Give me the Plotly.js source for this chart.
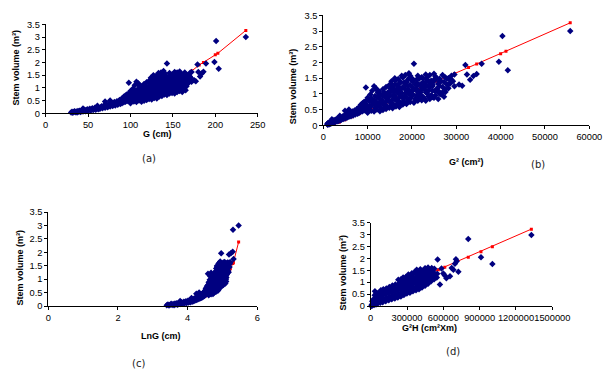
<!DOCTYPE html>
<html><head><meta charset="utf-8">
<script src="https://cdn.plot.ly/plotly-3.0.1.min.js"></script>
<style>html,body{margin:0;padding:0;background:#fff;}#chart{width:607px;height:374px;}</style>
</head><body><div id="chart"></div>
<script>
// ---- Tree data: girth G (cm) and stem volume V (m3) ----
const G = [
  30,31,32,33,34,35,36,37,38,39,40,41,42,43,44,45,46,47,48,49,50,51,52,53,54,55,56,57,58,59,60,61,62,63,61,44,
  64,65,66,67,68,69,70,70,71,72,73,74,75,76,76,77,78,79,80,81,82,83,84,85,86,87,88,89,90,90,91,92,92,93,94,94,95,96,96,97,98,98,99,99,
  100,101,99,102,100,
  104,103,105,104,103,105,
  107,108,106,107,108,107,
  110,111,109,110,111,110,109,
  113,114,112,113,114,112,
  116,117,115,116,117,116,
  119,120,118,119,120,119,
  122,123,121,122,123,122,
  125,126,124,125,126,125,124,
  128,129,127,128,129,128,127,
  131,132,130,131,132,131,130,
  134,135,133,134,135,134,133,
  137,138,136,137,138,137,136,
  140,141,139,140,141,140,139,
  143,144,142,143,144,142,143,
  146,147,145,146,147,146,
  149,150,148,149,150,149,
  152,153,151,152,153,152,
  155,156,154,155,156,155,
  158,159,157,158,159,158,
  161,162,160,161,162,
  165,166,164,165,166,
  168,169,168,
  172,171,172,
  102,105,109,112,115,118,121,124,127,130,133,136,139,142,145,148,151,154,157,160,163,167,170,
  117,119,121,123,126,127,129,131,132,134,136,138,139,141,142,144,145,147,148,150,151,153,154,156,157,159,160,162,163,164,166,167,169,170,
  122,124,126,128,129,130,132,133,135,136,137,138,140,141,142,124,127,
  145,146,148,150,152,153,155,157,158,161,162,164,
  175,177,179,180,182,184,186,189,199,201,204,236
];
const V = [
  .03,.06,.02,.05,.08,.04,.07,.03,.09,.06,.10,.05,.08,.12,.07,.10,.14,.08,.12,.16,.10,.14,.18,.11,.15,.20,.13,.17,.22,.14,.19,.25,.16,.21,.30,.19,
  .18,.24,.28,.20,.26,.32,.46,.22,.29,.35,.24,.30,.38,.27,.50,.33,.41,.29,.36,.44,.31,.39,.47,.34,.42,.52,.37,.46,.58,.40,.50,.65,.43,.55,.70,.45,.60,.48,.75,.55,1.20,.66,.45,.80,
  .40,.52,.64,.76,.88,
  .46,.60,.73,.86,.98,1.10,
  .44,.56,.68,.80,.93,1.24,
  .50,.63,.76,.90,1.04,1.12,1.18,
  .45,.56,.69,.83,.97,1.08,
  .49,.66,.80,.94,1.06,1.15,
  .52,.60,.72,.86,1.01,1.22,
  .56,.73,.88,1.03,1.17,1.28,
  .54,.65,.78,.93,1.08,1.22,1.40,
  .60,.77,.95,1.12,1.28,1.44,1.50,
  .58,.70,.85,1.00,1.16,1.32,1.47,
  .66,.86,1.03,1.20,1.36,1.52,1.58,
  .68,.78,.93,1.09,1.25,1.40,1.60,
  .74,.95,1.12,1.28,1.44,1.58,1.66,
  .72,.84,.99,1.15,1.31,1.47,1.96,
  .78,1.00,1.16,1.32,1.48,1.58,
  .80,.90,1.05,1.21,1.37,1.53,
  .78,1.02,1.20,1.37,1.52,1.62,
  .84,.96,1.10,1.26,1.42,1.60,
  .88,1.08,1.25,1.41,1.55,1.64,
  .84,1.00,1.16,1.32,1.48,
  .91,1.06,1.22,1.38,1.52,
  1.18,1.32,1.50,
  1.24,1.40,1.62,
  .58,.78,.66,.90,.70,.95,.78,1.10,.83,1.20,.90,1.30,1.00,1.40,1.10,1.30,1.15,1.40,1.30,1.10,1.40,1.30,1.45,
  .55,.90,1.05,.62,.95,1.30,.68,1.05,1.38,.75,1.15,.85,1.50,.98,1.20,.80,1.45,.88,1.10,1.50,.85,1.25,.92,1.35,1.10,.95,1.50,1.25,.98,1.60,1.15,1.48,1.35,1.58,
  .95,.72,1.12,.86,1.05,.78,.95,1.18,.72,1.00,1.36,1.12,.85,1.08,.95,1.30,1.45,
  .95,1.28,.98,1.30,1.05,1.45,1.20,.90,1.45,1.10,1.40,1.05,
  1.30,1.26,1.92,1.62,1.45,1.57,1.63,1.96,2.02,2.84,1.75,3.00
];
// ---- Fitted (predicted) volumes, red lines ----
const Gfit  = [30,40,50,60,70,80,90,100,110,120,130,140,147,160,172,181,186,200,203,236];
const VfitA = [.04,.08,.13,.19,.26,.34,.44,.55,.66,.79,.93,1.08,1.20,1.43,1.66,1.90,2.00,2.30,2.36,3.26];
const VfitB = [-.05,-.01,.04,.10,.18,.27,.37,.48,.60,.74,.88,1.04,1.15,1.40,1.64,1.84,1.95,2.28,2.36,3.26];
const VfitC = [.05,.08,.12,.17,.23,.29,.36,.44,.52,.61,.70,.80,.88,1.04,1.19,1.31,1.39,1.58,1.62,2.38];
// ---- Panel (d): G2H (cm2 x m) and stem volume ----
const GHx = [
  5000,9000,
  14000,17000,13000,
  28000,31000,27000,33000,
  44000,47000,42000,46000,
  58000,62000,57000,61000,35000,
  79000,82000,77000,81000,84000,
  99000,102000,97000,101000,104000,
  124000,127000,122000,126000,129000,
  149000,152000,147000,151000,154000,
  174000,177000,172000,176000,179000,
  199000,202000,197000,201000,204000,228000,
  224000,227000,222000,226000,229000,250000,
  249000,252000,247000,251000,254000,250000,268000,
  274000,277000,272000,276000,279000,274000,290000,
  299000,302000,297000,301000,304000,299000,311000,
  324000,327000,322000,326000,329000,324000,340000,
  349000,352000,347000,351000,354000,349000,365000,
  374000,377000,372000,376000,379000,374000,380000,
  399000,402000,397000,401000,404000,399000,410000,
  424000,427000,422000,426000,429000,424000,449000,
  449000,452000,447000,451000,454000,449000,
  474000,477000,472000,476000,479000,474000,
  499000,502000,497000,501000,504000,
  524000,527000,522000,526000,
  546000,549000,553000,
  572000,585000,600000,612000,625000,655000,669000,683000,696000,704000,710000,724000,806000,911000,1005000,1327000
];
const GHv = [
  .00,.05,
  .02,.10,.20,
  .04,.15,.30,.45,
  .06,.18,.33,.50,
  .10,.22,.36,.55,.62,
  .14,.26,.40,.55,.66,
  .16,.30,.44,.58,.70,
  .20,.34,.48,.62,.74,
  .24,.38,.52,.66,.80,
  .28,.42,.56,.70,.86,
  .32,.46,.60,.74,.90,1.10,
  .36,.50,.64,.78,.92,1.08,
  .40,.54,.68,.82,.96,1.12,1.20,
  .46,.60,.74,.88,1.02,1.16,1.22,
  .52,.66,.80,.94,1.08,1.22,1.32,
  .56,.70,.84,.98,1.12,1.26,1.38,
  .62,.76,.90,1.04,1.18,1.32,1.44,
  .66,.80,.94,1.08,1.22,1.36,1.52,
  .70,.84,.98,1.12,1.26,1.40,1.54,
  .78,.92,1.06,1.20,1.34,1.48,1.59,
  .85,1.00,1.14,1.28,1.42,1.56,
  .94,1.08,1.22,1.36,1.50,1.62,
  1.04,1.18,1.32,1.46,1.60,
  1.12,1.26,1.40,1.56,
  1.20,1.35,1.95,
  .90,1.58,1.37,1.28,1.17,1.25,1.60,1.52,1.78,1.96,1.88,1.44,2.81,2.05,1.76,2.98
];
const GHfitX = [50000,150000,300000,450000,559000,612000,704000,806000,911000,1005000,1327000];
const GHfitV = [.40,.62,.95,1.28,1.52,1.63,1.83,2.05,2.28,2.49,3.23];

// Axis tick settings
const xDtick = [50, 10000, 2, 300000];
const xRange = [[0,250],[0,60000],[0,6],[0,1500000]];
const yTitle = '<b>Stem volume (m³)</b>';
const xTitles = ['<b>G (cm)</b>','<b>G² (cm²)</b>','<b>LnG (cm)</b>','<b>G²H (cm²Xm)</b>'];
const panelLabels = ['(a)','(b)','(c)','(d)'];

// x values for panels (b) and (c): the same trees on G² and ln G axes
const G2 = G.map(g => g*g);
const LnG = G.map(g => Math.log(g));
const Gfit2 = Gfit.map(g => g*g);
const LnGfit = Gfit.map(g => Math.log(g));

const W = 607, H = 374;
// pixel boxes [left, right, bottom, top]
const boxes = [[45.7,257.7,113.3,24.3],[323.3,589.3,125.3,15.3],[48.3,257.3,306,212],[370.7,552.3,306,222.7]];

const navy = '#000080';
function fitTrace(x,y,i){
  return {x:x,y:y,xaxis:'x'+(i?i+1:''),yaxis:'y'+(i?i+1:''),type:'scatter',mode:'lines+markers',
    line:{color:'#ff0000',width:1},marker:{color:'#ff0000',size:3,symbol:'square'},hoverinfo:'skip'};
}
function dataTrace(x,y,i){
  return {x:x,y:y,xaxis:'x'+(i?i+1:''),yaxis:'y'+(i?i+1:''),type:'scatter',mode:'markers',cliponaxis:false,
    marker:{color:navy,size:5,symbol:'diamond',line:{width:0}}};
}
const traces = [
  fitTrace(Gfit,VfitA,0), dataTrace(G,V,0),
  fitTrace(Gfit2,VfitB,1), dataTrace(G2,V,1),
  fitTrace(LnGfit,VfitC,2), dataTrace(LnG,V,2),
  fitTrace(GHfitX,GHfitV,3), dataTrace(GHx,GHv,3)
];

const tickfont = {family:'Liberation Sans, Arial, sans-serif', size:9.3, color:'#000'};
const layout = {width:W,height:H,margin:{l:0,r:0,t:0,b:0},paper_bgcolor:'#fff',plot_bgcolor:'rgba(0,0,0,0)',
  showlegend:false,annotations:[]};
boxes.forEach((b,i)=>{
  const s = i? String(i+1):'';
  layout['xaxis'+s] = {domain:[b[0]/W,b[1]/W],range:xRange[i],tick0:0,dtick:xDtick[i],anchor:'y'+s,
    showgrid:false,zeroline:false,showline:true,linecolor:'#000',linewidth:1,ticks:'outside',ticklen:3,
    tickcolor:'#000',tickfont:tickfont,tickangle:0,tickformat:'d',fixedrange:true};
  layout['yaxis'+s] = {domain:[1-b[2]/H,1-b[3]/H],range:[0,3.5],tick0:0,dtick:0.5,anchor:'x'+s,
    showgrid:false,zeroline:false,showline:true,linecolor:'#000',linewidth:1,ticks:'outside',ticklen:3,
    tickcolor:'#000',tickfont:tickfont,fixedrange:true};
});
const titleFont = {family:'Liberation Sans, Arial, sans-serif', size:9, color:'#000'};
const yTitlePos = [[16,67.5],[293.3,86],[19,267.5],[342,272.5]];
const xTitlePos = [[157.5,133.5],[466.5,162.3],[161,336],[429,327.5]];
const labelPos = [[149,158],[538,164],[138,363],[453,351]];
for(let i=0;i<4;i++){
  layout.annotations.push({text:yTitle,x:yTitlePos[i][0]/W,y:1-yTitlePos[i][1]/H,xref:'paper',yref:'paper',
    showarrow:false,textangle:-90,xanchor:'center',yanchor:'middle',font:titleFont});
  layout.annotations.push({text:xTitles[i],x:xTitlePos[i][0]/W,y:1-xTitlePos[i][1]/H,xref:'paper',yref:'paper',
    showarrow:false,xanchor:'center',yanchor:'middle',font:titleFont});
  layout.annotations.push({text:panelLabels[i],x:labelPos[i][0]/W,y:1-labelPos[i][1]/H,xref:'paper',yref:'paper',
    showarrow:false,xanchor:'center',yanchor:'middle',font:{family:'DejaVu Sans, Verdana, sans-serif',size:10,color:'#222'}});
}
Plotly.newPlot('chart',traces,layout,{staticPlot:true,displayModeBar:false});
</script></body></html>
